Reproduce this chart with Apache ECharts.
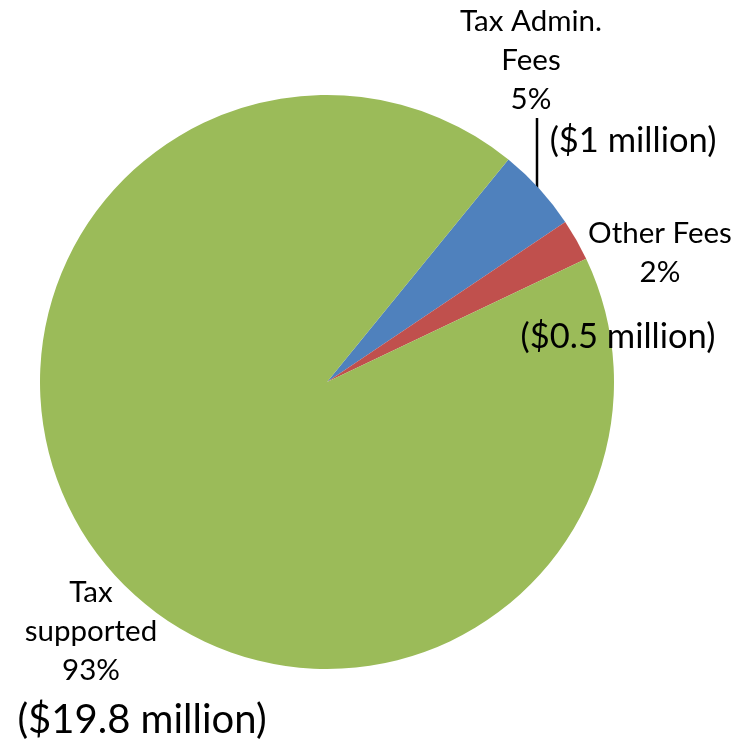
<!DOCTYPE html>
<html>
<head>
<meta charset="utf-8">
<script src="https://cdn.jsdelivr.net/npm/echarts@6/dist/echarts.min.js"></script>
<style>
  html, body { margin: 0; padding: 0; background: #ffffff; }
  #chart { width: 749px; height: 739px; }
</style>
</head>
<body>
<div id="chart"></div>
<script>
// Revenue sources (in $ millions)
const categories = ['Tax Admin.\nFees', 'Other Fees', 'Tax\nsupported'];
const amounts = [1, 0.5, 19.8];
const colors = ['#4F81BD', '#C0504D', '#9BBB59'];

// Label anchor points and sizes, per slice
const nameLabelPos = [[531, 60], [660, 253], [91, 631]];
const amountLabelPos = [[633, 141], [618, 337], [142, 720]];
const amountFontSize = [34.5, 34.5, 40];
const leaderLine = [[537, 191], [537, 118], [537, 118]];

const FONT = 'Lato, "Open Sans", sans-serif';
const CENTER = [327, 382];
const RADIUS = 287;

const sliceData = categories.map((name, i) => ({
  name: name,
  value: amounts[i],
  itemStyle: { color: colors[i] },
  labelLine: { show: i === 0 }
}));

const amountData = categories.map((name, i) => ({
  name: name,
  value: amounts[i],
  label: { fontSize: amountFontSize[i] }
}));

const chart = echarts.init(document.getElementById('chart'));
chart.setOption({
  backgroundColor: '#ffffff',
  animation: false,
  series: [
    {
      type: 'pie',
      center: CENTER,
      radius: RADIUS,
      startAngle: 50.8,
      clockwise: true,
      avoidLabelOverlap: false,
      percentPrecision: 0,
      silent: true,
      itemStyle: { borderWidth: 0 },
      label: {
        show: true,
        position: 'outside',
        formatter: '{b}\n{d}%',
        fontFamily: FONT,
        fontSize: 29.5,
        lineHeight: 39,
        color: '#000000',
        align: 'center'
      },
      labelLine: {
        lineStyle: { color: '#000000', width: 2.5 }
      },
      labelLayout: function (p) {
        const pos = nameLabelPos[p.dataIndex];
        const out = { x: pos[0], y: pos[1], align: 'center', verticalAlign: 'middle' };
        if (p.dataIndex === 0) out.labelLinePoints = leaderLine;
        return out;
      },
      data: sliceData
    },
    {
      type: 'pie',
      center: CENTER,
      radius: RADIUS,
      startAngle: 50.8,
      clockwise: true,
      avoidLabelOverlap: false,
      silent: true,
      itemStyle: { color: 'rgba(0,0,0,0)', borderWidth: 0 },
      label: {
        show: true,
        position: 'outside',
        formatter: '(${c} million)',
        fontFamily: FONT,
        color: '#000000'
      },
      labelLine: { show: false },
      labelLayout: function (p) {
        const pos = amountLabelPos[p.dataIndex];
        return {
          x: pos[0], y: pos[1], align: 'center', verticalAlign: 'middle',
          fontSize: amountFontSize[p.dataIndex]
        };
      },
      data: amountData
    }
  ]
});
</script>
</body>
</html>
